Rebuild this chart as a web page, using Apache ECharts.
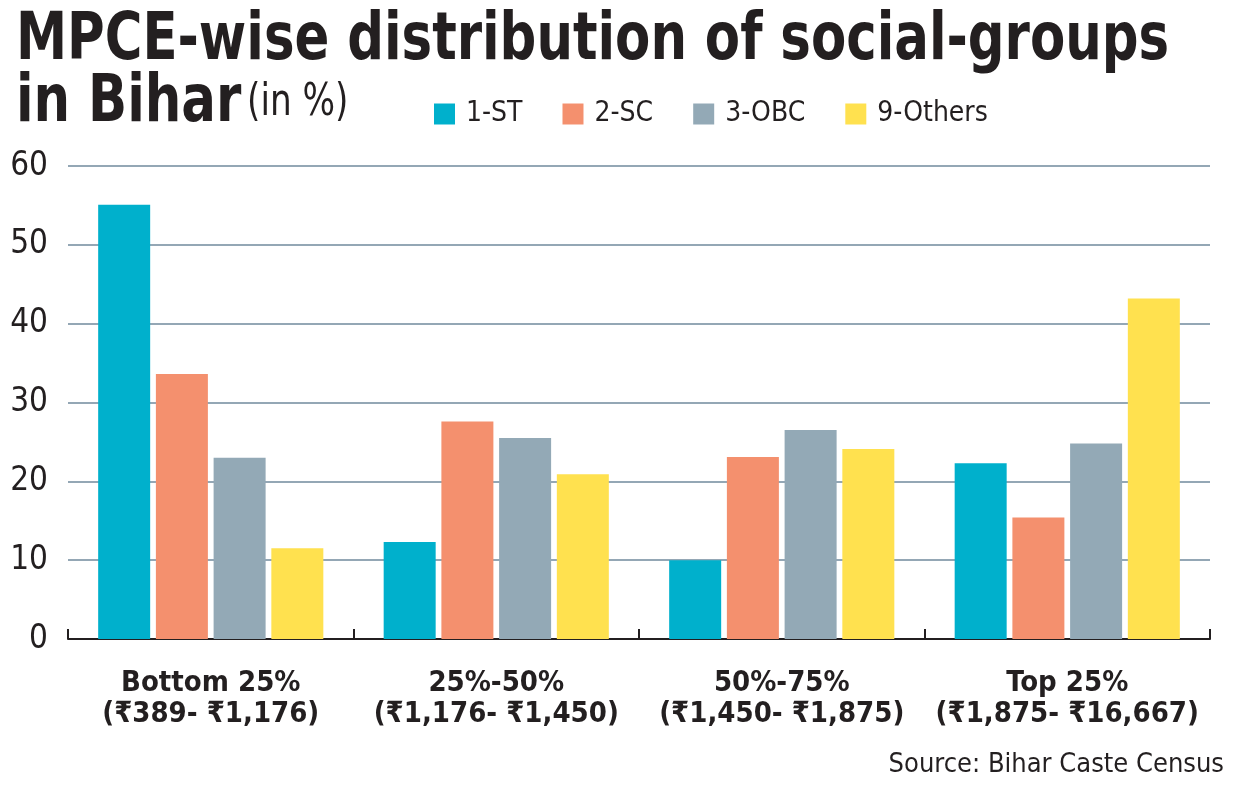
<!DOCTYPE html>
<html>
<head>
<meta charset="utf-8">
<script src="https://cdn.jsdelivr.net/npm/echarts@6/dist/echarts.min.js"></script>
<style>
  html, body { margin: 0; padding: 0; background: #fff; }
  #chart { width: 1240px; height: 785px; }
</style>
</head>
<body>
<div id="chart"></div>
<script>
  // MPCE bands
  var categories = ['Bottom 25%\n(₹389- ₹1,176)', '25%-50%\n(₹1,176- ₹1,450)', '50%-75%\n(₹1,450- ₹1,875)', 'Top 25%\n(₹1,875- ₹16,667)'];
  var groupNames = ['1-ST', '2-SC', '3-OBC', '9-Others'];
  var stValues = [55.1, 12.3, 10.0, 22.3];
  var scValues = [33.6, 27.6, 23.1, 15.4];
  var obcValues = [23.0, 25.5, 26.5, 24.8];
  var othersValues = [11.5, 20.9, 24.1, 43.2];
  var yTicks = [0, 10, 20, 30, 40, 50, 60];

  var colors = ['#00b0cc', '#f4906e', '#93a9b6', '#ffe14f'];
  var narrow = '"Liberation Sans Narrow", "DejaVu Sans Condensed", "Noto Sans", sans-serif';
  var ink = '#231f20';

  var chart = echarts.init(document.getElementById('chart'));

  function bar(name, data, i){
    return {
      name: name,
      type: 'bar',
      data: data,
      barWidth: 52,
      barGap: '11%',
      itemStyle: { color: colors[i] },
      emphasis: { disabled: true }
    };
  }

  var option = {
    animation: false,
    backgroundColor: '#fff',
    color: colors,
    legend: {
      left: 429,
      top: 95,
      itemWidth: 21,
      itemHeight: 21,
      itemGap: 40,
      icon: 'rect',
      data: groupNames,
      textStyle: { fontFamily: narrow, fontSize: 28, color: ink, padding: [0, 0, 0, 6] }
    },
    grid: { left: 68, right: 30, top: 166, bottom: 146 },
    xAxis: {
      type: 'category',
      data: categories,
      axisLine: { lineStyle: { color: ink, width: 2 } },
      axisTick: { show: true, inside: true, interval: 0, alignWithLabel: false, length: 10, lineStyle: { color: ink, width: 2 } },
      axisLabel: {
        interval: 0,
        margin: 29,
        fontFamily: narrow,
        fontWeight: 'bold',
        fontSize: 29,
        lineHeight: 31,
        color: ink
      }
    },
    yAxis: {
      type: 'value',
      min: yTicks[0],
      max: yTicks[yTicks.length - 1],
      interval: 10,
      axisLine: { show: false },
      axisTick: { show: false },
      axisLabel: { margin: 20, fontFamily: narrow, fontSize: 33, color: ink },
      splitLine: { lineStyle: { color: '#94a7b5', width: 2 } }
    },
    graphic: [{
      // headline, squeezed horizontally to mimic the condensed newspaper face
      type: 'text',
      left: 16,
      top: 9,
      scaleX: 0.865,
      style: {
        text: '{b|MPCE-wise distribution of social-groups}\n{b|in Bihar}  {r|(in %)}',
        rich: {
          b: { fontFamily: narrow, fontWeight: 'bold', fontSize: 66, fill: ink, lineHeight: 62 },
          r: { fontFamily: narrow, fontWeight: 'normal', fontSize: 44, fill: ink, lineHeight: 62 }
        }
      }
    }, {
      type: 'text',
      right: 16,
      top: 751,
      style: { text: 'Source: Bihar Caste Census', fontFamily: narrow, fontSize: 27, fill: ink }
    }],
    series: [
      bar(groupNames[0], stValues, 0),
      bar(groupNames[1], scValues, 1),
      bar(groupNames[2], obcValues, 2),
      bar(groupNames[3], othersValues, 3)
    ]
  };

  chart.setOption(option);
</script>
</body>
</html>
